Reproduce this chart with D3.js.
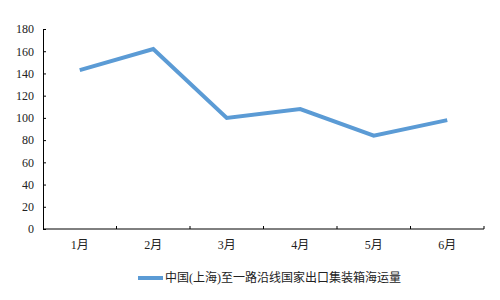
<!DOCTYPE html>
<html>
<head>
<meta charset="utf-8">
<script src="https://cdn.jsdelivr.net/npm/d3@7"></script>
<style>
  body { margin: 0; background: #fff; }
</style>
</head>
<body>
<div id="chart"></div>
<script>
// chart data
const months = ["1月", "2月", "3月", "4月", "5月", "6月"];
const volume = [143, 162, 100, 108, 84, 98];
const seriesName = "中国(上海)至一路沿线国家出口集装箱海运量";
const yTicks = [0, 20, 40, 60, 80, 100, 120, 140, 160, 180];

const W = 500, H = 300;
const margin = {top: 29, right: 16, bottom: 71, left: 43};
const width = W - margin.left - margin.right,
  height = H - margin.top - margin.bottom;
const FONT = "Liberation Serif, Noto Sans CJK SC";

const svg = d3.select("#chart").append("svg")
    .attr("width", W)
    .attr("height", H)
  .append("g")
    .attr("transform", "translate(" + margin.left + "," + margin.top + ")")
    .attr("font-family", FONT)
    .attr("font-size", 12);

const x = d3.scaleBand().domain(months).range([0, width]);
const y = d3.scaleLinear().domain([0, 180]).range([height, 0]);

// y axis, ticks pointing inward
const yAxis = svg.append("g")
  .call(d3.axisLeft(y).tickValues(yTicks).tickSize(-3).tickPadding(9))
  .attr("font-family", FONT)
  .attr("font-size", 12);
yAxis.select(".domain").attr("stroke", "#000");
yAxis.selectAll(".tick line").attr("stroke", "#000");
yAxis.selectAll("text").attr("fill", "#222");

// x axis with band-edge ticks
const xg = svg.append("g").attr("transform", "translate(0," + height + ")");
xg.append("line")
  .attr("x1", 0).attr("x2", width)
  .attr("stroke", "#000");
xg.selectAll(".edge")
  .data(months)
  .join("line")
  .attr("x1", d => x(d) + x.bandwidth())
  .attr("x2", d => x(d) + x.bandwidth())
  .attr("y1", 0).attr("y2", -3)
  .attr("stroke", "#000");
xg.selectAll(".lbl")
  .data(months)
  .join("text")
  .attr("x", d => x(d) + x.bandwidth() / 2)
  .attr("y", 20)
  .attr("text-anchor", "middle")
  .attr("fill", "#222")
  .text(d => d);

// the line
const line = d3.line()
  .x((d, i) => x(months[i]) + x.bandwidth() / 2)
  .y(d => y(d));

svg.append("path")
  .datum(volume)
  .attr("fill", "none")
  .attr("stroke", "#5b9bd5")
  .attr("stroke-width", 4)
  .attr("d", line);

// legend
const lg = svg.append("g").attr("transform", "translate(95," + (height + 49) + ")");
lg.append("line")
  .attr("x1", 0).attr("x2", 25)
  .attr("stroke", "#5b9bd5")
  .attr("stroke-width", 4);
lg.append("text")
  .attr("x", 27)
  .attr("y", 4)
  .attr("fill", "#222")
  .text(seriesName);
</script>
</body>
</html>
